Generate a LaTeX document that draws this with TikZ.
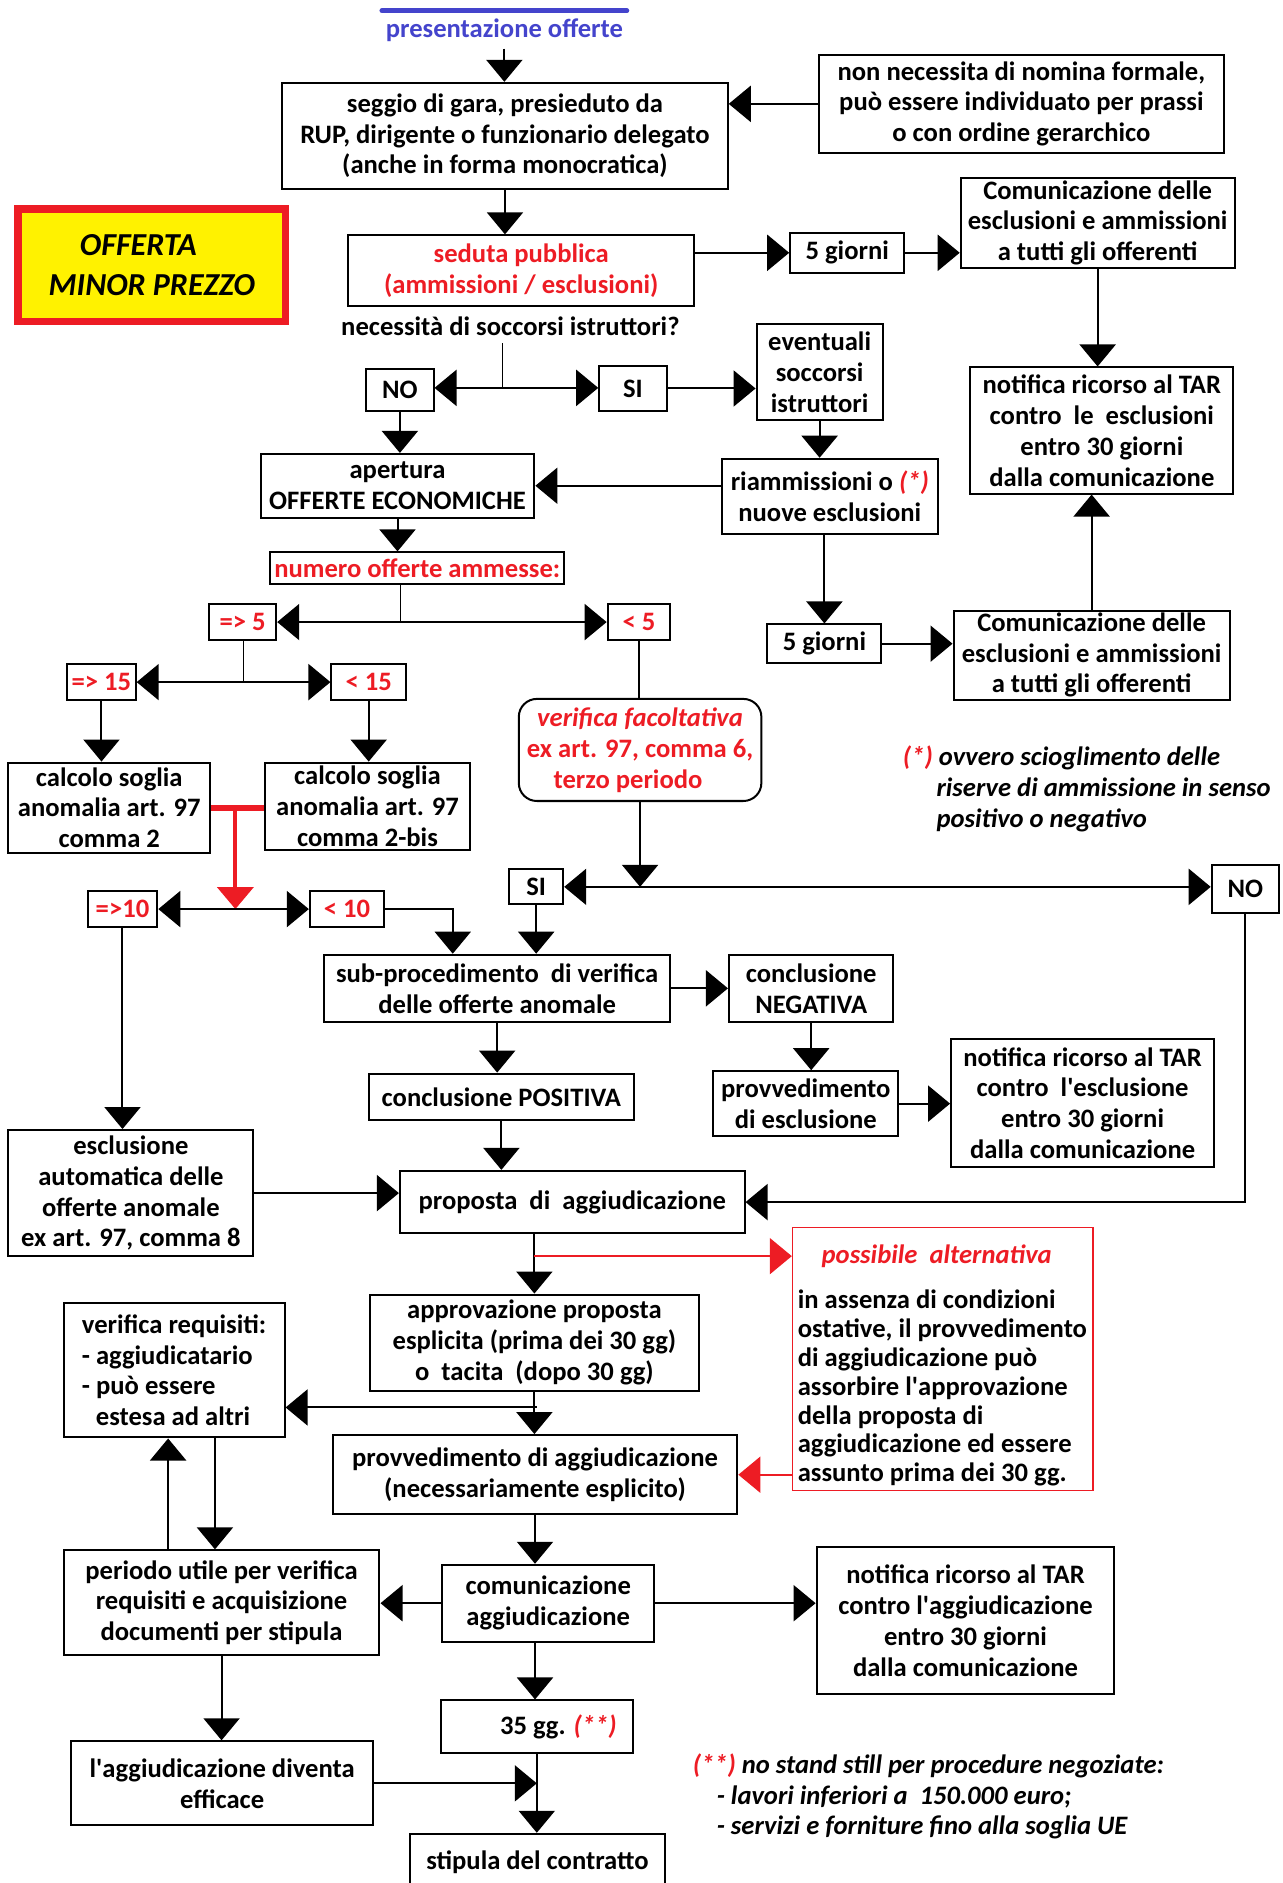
\documentclass[tikz,border=0pt]{standalone}
\usepackage{fontspec}
\setmainfont{Carlito}
\usepackage{tikz}
\usetikzlibrary{arrows.meta}
\definecolor{rosso}{HTML}{ED1C24}
\definecolor{giallo}{HTML}{FFF200}
\definecolor{blu}{HTML}{4444CC}
\newcommand{\tsize}{\fontsize{13.3}{15.4}\selectfont}
\newcommand{\ap}{\textquotesingle}

\begin{document}
\begin{tikzpicture}[x=0.6pt, y=-0.6pt,
  font=\bfseries\tsize,
  bx/.style n args={2}{draw, line width=1pt, align=center, inner sep=1pt,
    minimum width=#1*0.6pt, minimum height=#2*0.6pt},
  arr/.style={-{Triangle[length=11pt,width=18pt]}, line width=1pt},
  redarr/.style={-{Triangle[length=11pt,width=18pt]}, draw=rosso, fill=rosso, line width=1pt},
  nota/.style={anchor=west, align=left, font=\bfseries\itshape\tsize}]
\useasboundingbox (0,0) rectangle (1068,1568);

% inizio
\draw[line width=2.4pt, blu, line cap=round] (318,9) -- (522,9);
\node[text=blu] (pres) at (420,25) {presentazione offerte};
\node[bx={371}{88}] (seggio) at (420.5,113) {seggio di gara, presieduto da\\RUP, dirigente o funzionario delegato\\(anche in forma monocratica)};
\node[bx={337}{81}] (nomina) at (850.5,86.5) {non necessita di nomina formale,\\può essere individuato per prassi\\o con ordine gerarchico};
\node[bx={223}{94}, draw=rosso, line width=3.6pt, fill=giallo, align=left,
  font=\bfseries\itshape\fontsize{16}{19.8}\selectfont] (tipo) at (126.5,221) {\hspace*{15.6pt}OFFERTA\\MINOR PREZZO};
\node[bx={288}{59}, text=rosso] (seduta) at (434,225.5) {seduta pubblica\\(ammissioni / esclusioni)};
\node[bx={95}{33}] (giorni1) at (705.5,210.5) {5 giorni};
\node[bx={228}{75}] (comm1) at (914,185.5) {Comunicazione delle\\esclusioni e ammissioni\\a tutti gli offerenti};
\node[bx={219}{105}] (tar1) at (917.5,358.5) {notifica ricorso al TAR\\contro\ \ le\ \ esclusioni\\entro 30 giorni\\dalla comunicazione};

% soccorso istruttorio
\node (nec) at (425,272) {necessità di soccorsi istruttori?};
\node[bx={56}{35}] (no1) at (333,324.5) {NO};
\node[bx={56}{37}] (si1) at (527,323.5) {SI};
\node[bx={105}{80}] (event) at (682.5,310) {eventuali\\soccorsi\\istruttori};
\node[bx={180}{63}] (riamm) at (691,413.5) {riammissioni o \textcolor{rosso}{\itshape(*)}\\nuove esclusioni};
\node[bx={228}{53}] (apert) at (331,404.5) {apertura\\OFFERTE ECONOMICHE};
\node[bx={95}{32}] (giorni2) at (686.5,536) {5 giorni};
\node[bx={230}{73}] (comm2) at (909,545.5) {Comunicazione delle\\esclusioni e ammissioni\\a tutti gli offerenti};

% numero offerte
\node[bx={245}{26}, text=rosso] (numero) at (347.5,473) {numero offerte ammesse:};
\node[bx={56}{30}, text=rosso] (ge5) at (202,518) {=> 5};
\node[bx={52}{30}, text=rosso] (lt5) at (532,518) {< 5};
\node[bx={57}{30}, text=rosso] (ge15) at (84.5,568) {=> 15};
\node[bx={62}{30}, text=rosso] (lt15) at (307,568) {< 15};
\node[bx={168}{75}] (calc2) at (91,672.5) {calcolo soglia\\anomalia art. 97\\comma 2};
\node[bx={170}{73}] (calc2bis) at (306,671.5) {calcolo soglia\\anomalia art. 97\\comma 2-bis};
\node[bx={202}{85}, rounded corners=9pt, text=rosso] (verif) at (533,624.5) {\itshape verifica facoltativa\\ex art. 97, comma 6,\\terzo periodo\hspace*{12pt}};
\node[bx={58}{30}, text=rosso] (ge10) at (102,757) {=>10};
\node[bx={62}{30}, text=rosso] (lt10) at (289,757) {< 10};
\node[bx={45}{29}] (si2) at (446.5,738.5) {SI};
\node[bx={56}{40}] (no2) at (1037,740) {NO};
\node[nota] (nota1) at (746,657) {\textcolor{rosso}{(*)} ovvero scioglimento delle\\\hspace*{16.8pt}riserve di ammissione in senso\\\hspace*{16.8pt}positivo o negativo};

% offerte anomale
\node[bx={288}{56}] (subproc) at (414,823) {sub-procedimento\ \ di verifica\\delle offerte anomale};
\node[bx={137}{56}] (negat) at (675.5,823) {conclusione\\NEGATIVA};
\node[bx={221}{39}] (posit) at (417.5,913.5) {conclusione POSITIVA};
\node[bx={154}{54}] (provvesc) at (671,919) {provvedimento\\di esclusione};
\node[bx={219}{107}] (tar2) at (901.5,918.5) {notifica ricorso al TAR\\contro\ \ l\ap esclusione\\entro 30 giorni\\dalla comunicazione};
\node[bx={204}{105}] (esclaut) at (109,993.5) {esclusione\\automatica delle\\offerte anomale\\ex art. 97, comma 8};

% aggiudicazione
\node[bx={287}{52}] (propos) at (476.5,1001) {proposta\ \ di\ \ aggiudicazione};
\node[bx={250}{219}, draw=rosso, line width=0.8pt] (alt) at (785,1131.5) {};
\node[text=rosso, font=\bfseries\itshape\tsize] (altt) at (780,1046) {possibile\ \ alternativa};
\node[anchor=north west, align=left, inner sep=0pt, font=\bfseries\fontsize{13.3}{14.4}\selectfont] (altx) at (664,1074) {in assenza di condizioni\\ostative, il provvedimento\\di aggiudicazione può\\assorbire l\ap approvazione\\della proposta di\\aggiudicazione ed essere\\assunto prima dei 30 gg.};
\node[bx={274}{80}] (approv) at (445,1118) {approvazione proposta\\esplicita (prima dei 30 gg)\\o\ \ tacita\ \ (dopo 30 gg)};
\node[bx={337}{66}] (provvagg) at (445.5,1228) {provvedimento di aggiudicazione\\(necessariamente esplicito)};
\node[bx={184}{112}, align=left] (verreq) at (145,1141) {verifica requisiti:\\- aggiudicatario\\- può essere\\\hspace*{7pt}estesa ad altri};
\node[bx={263}{87}] (periodo) at (184.5,1334.5) {periodo utile per verifica\\requisiti e acquisizione\\documenti per stipula};
\node[bx={177}{64}] (comagg) at (456.5,1335) {comunicazione\\aggiudicazione};
\node[bx={248}{123}] (tar3) at (804,1349.5) {notifica ricorso al TAR\\contro l\ap aggiudicazione\\entro 30 giorni\\dalla comunicazione};
\node[bx={160}{44}] (gg35) at (447,1438) {\hspace*{21.6pt}35 gg. \textcolor{rosso}{\itshape(**)}};
\node[bx={252}{70}] (effic) at (185,1485) {l\ap aggiudicazione diventa\\efficace};
\node[bx={213}{48}] (stipula) at (447.5,1551) {stipula del contratto};
\node[nota] (nota2) at (571,1496) {\textcolor{rosso}{(**)} no stand still per procedure negoziate:\\\hspace*{12pt}- lavori inferiori a\ \ 150.000 euro;\\\hspace*{12pt}- servizi e forniture fino alla soglia UE};

% punti di diramazione
\coordinate (b1) at (418,323);
\coordinate (b2) at (333,518);
\coordinate (b3) at (203,568);
\coordinate (b4) at (196,757);
\coordinate (b5) at (verif.south |- si2.east);
\coordinate (b6) at (447,1172);
\coordinate (sp1) at ([xshift=-22.2pt]subproc.north);
\coordinate (vr1) at ([xshift=20.4pt]verreq.south);
\coordinate (vr2) at ([xshift=-3pt]verreq.south);

% collegamenti
\draw[arr] (pres.south) -- (pres.south |- seggio.north);
\draw[arr] (nomina.west) -- (nomina.west -| seggio.east);
\draw[arr] (seggio.south) -- (seggio.south |- seduta.north);
\draw[arr] (seduta.east |- giorni1.west) -- (giorni1.west);
\draw[arr] (giorni1.east) -- (giorni1.east -| comm1.west);
\draw[arr] (comm1.south) -- (comm1.south |- tar1.north);
\draw (nec.south -| b1) -- (b1);
\draw[arr] (b1) -- (b1 -| no1.east);
\draw[arr] (b1) -- (b1 -| si1.west);
\draw[arr] (si1.east) -- (si1.east -| event.west);
\draw[arr] (event.south) -- (event.south |- riamm.north);
\draw[arr] (no1.south) -- (no1.south |- apert.north);
\draw[arr] (riamm.west |- apert.east) -- (apert.east);
\draw[arr] (apert.south) -- (apert.south |- numero.north);
\draw[arr] (riamm.south -| giorni2.north) -- (giorni2.north);
\draw[arr] (giorni2.east) -- (giorni2.east -| comm2.west);
\draw[arr] (comm2.north) -- (comm2.north |- tar1.south);
\draw (numero.south -| b2) -- (b2);
\draw[arr] (b2) -- (b2 -| ge5.east);
\draw[arr] (b2) -- (b2 -| lt5.west);
\draw (ge5.south -| b3) -- (b3);
\draw[arr] (b3) -- (b3 -| ge15.east);
\draw[arr] (b3) -- (b3 -| lt15.west);
\draw[arr] (ge15.south) -- (ge15.south |- calc2.north);
\draw[arr] (lt15.south) -- (lt15.south |- calc2bis.north);
\draw[line width=1pt] (lt5.south) -- (lt5.south |- verif.north);
\draw[rosso, line width=3pt] (calc2.east) -- (calc2.east -| calc2bis.west);
\draw[redarr, line width=2pt] (calc2.east -| b4) -- (b4);
\draw[arr] (b4) -- (b4 -| ge10.east);
\draw[arr] (b4) -- (b4 -| lt10.west);
\draw[arr] (verif.south) -- (b5);
\draw[arr] (b5) -- (si2.east);
\draw[arr] (b5) -- (b5 -| no2.west);
\draw[arr] (lt10.east) -| (sp1);
\draw[arr] (si2.south) -- (si2.south |- subproc.north);
\draw[arr] (subproc.east) -- (negat.west);
\draw[arr] (subproc.south) -- (subproc.south |- posit.north);
\draw[arr] (negat.south) -- (negat.south |- provvesc.north);
\draw[arr] (provvesc.east) -- (provvesc.east -| tar2.west);
\draw[arr] (ge10.south) -- (ge10.south |- esclaut.north);
\draw[arr] (posit.south) -- (posit.south |- propos.north);
\draw[arr] (esclaut.east) -- (esclaut.east -| propos.west);
\draw[arr] (no2.south) |- (propos.east);
\draw[arr] (approv.north |- propos.south) -- (approv.north);
\draw[redarr] (approv.north |- altt) -- (alt.west |- altt);
\draw[arr] (approv.south) -- (approv.south |- provvagg.north);
\draw[arr] (b6) -- (b6 -| verreq.east);
\draw[redarr] (alt.west |- provvagg.east) -- (provvagg.east);
\draw[arr] (vr1) -- (vr1 |- periodo.north);
\draw[arr] (vr2 |- periodo.north) -- (vr2);
\draw[arr] (provvagg.south) -- (provvagg.south |- comagg.north);
\draw[arr] (comagg.west) -- (comagg.west -| periodo.east);
\draw[arr] (comagg.east) -- (comagg.east -| tar3.west);
\draw[arr] (provvagg.south |- comagg.south) -- (provvagg.south |- gg35.north);
\draw[arr] (periodo.south) -- (periodo.south |- effic.north);
\draw[arr] (gg35.south) -- (gg35.south |- stipula.north);
\draw[arr] (effic.east) -- (effic.east -| gg35.south);
\end{tikzpicture}
\end{document}
